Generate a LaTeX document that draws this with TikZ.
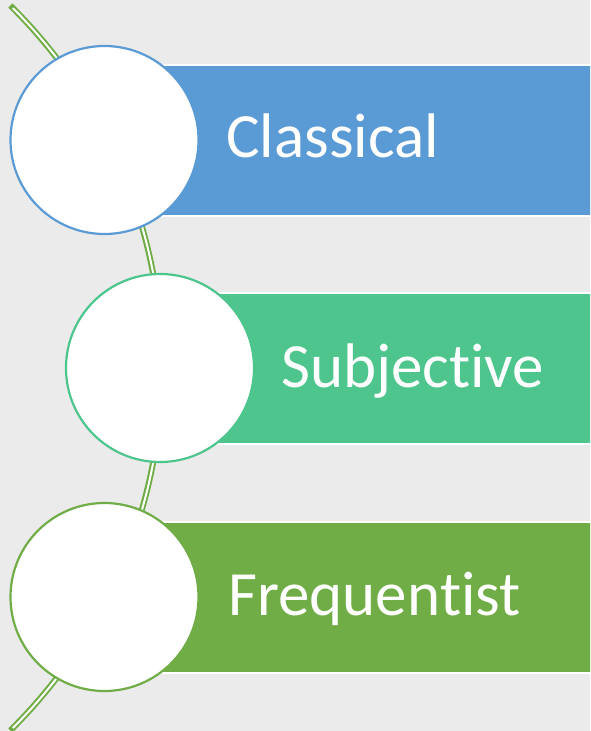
\documentclass[tikz,border=0pt]{standalone}
\usepackage{fontspec}
\setmainfont{Carlito}[RawFeature={-liga,-clig,-calt,-dlig}]
\definecolor{bg}{HTML}{EBEBEB}
\definecolor{cblue}{HTML}{5B9BD5}
\definecolor{cteal}{HTML}{4EC58D}
\definecolor{cgreen}{HTML}{70AD47}
\begin{document}
\begin{tikzpicture}[x=1pt,y=-1pt,
  bar/.style={draw=white,line width=2pt},
  disc/.style={circle,fill=white,line width=2.2pt,minimum size=188pt,inner sep=0pt},
  label/.style={anchor=base west,inner sep=0pt,text=white,font=\fontsize{63}{70}\selectfont}]
\useasboundingbox (0,0) rectangle (590,731);
\fill[bg] (0,0) rectangle (590,731);
\begin{scope}
\clip (0,0) rectangle (590,731);
% connecting arc
\coordinate (ac) at (-347,368);
\draw[cgreen,line width=6pt] ([shift={(-45.4:509)}]ac) arc[start angle=-45.4,end angle=45.4,radius=509];
\draw[white,line width=2pt] ([shift={(-45.0:509)}]ac) arc[start angle=-45.0,end angle=45.0,radius=509];
% bars
\fill[cblue,bar] (104,64.5) rectangle (600,215.5);
\fill[cteal,bar] (160,293) rectangle (600,444);
\fill[cgreen,bar] (104,521.5) rectangle (600,672.5);
\end{scope}
% circles
\node[disc,draw=cblue] (c1) at (104.5,140) {};
\node[disc,draw=cteal] (c2) at (160,368) {};
\node[disc,draw=cgreen] (c3) at (104.5,597) {};
% labels
\node[label] (t1) at (226,157) {Classical};
\node[label] (t2) at (281,387) {Subjec\kern0pt tive};
\node[label] (t3) at (228,615) {Frequen\kern0pt tist};
\end{tikzpicture}
\end{document}
